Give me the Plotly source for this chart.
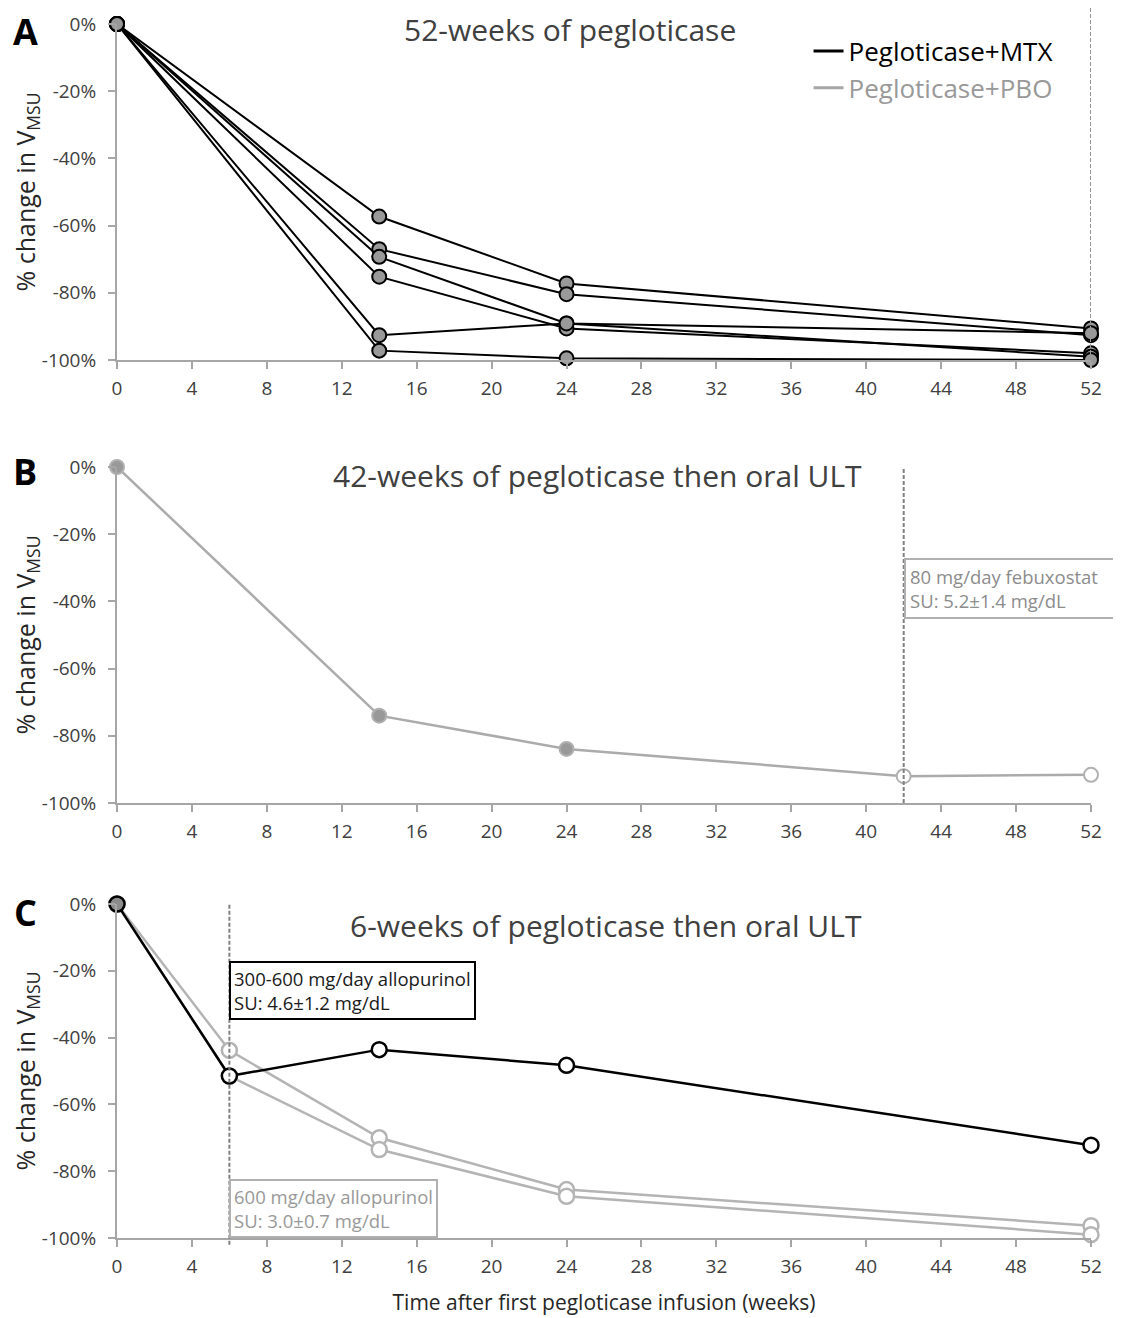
import plotly.graph_objects as go

# ---------------- data ----------------
weeks_a = [0, 14, 24, 52]
mtx_a1 = [0, -57.3, -77.2, -90.6]
mtx_a2 = [0, -67.0, -80.4, -92.6]
mtx_a3 = [0, -69.3, -89.1, -92.0]
mtx_a4 = [0, -75.2, -90.6, -98.0]
mtx_a5 = [0, -92.6, -89.1, -99.0]
mtx_a6 = [0, -97.2, -99.5, -100.0]
end_week_a = 52

weeks_b = [0, 14, 24, 42, 52]
pbo_b = [0, -74.0, -83.9, -92.0, -91.6]
switch_week_b = 42

weeks_c = [0, 6, 14, 24, 52]
mtx_c = [0, -51.5, -43.6, -48.3, -72.2]
pbo_c1 = [0, -43.8, -70.0, -85.5, -96.3]
pbo_c2 = [0, -51.5, -73.5, -87.5, -99.0]
switch_week_c = 6

y_tick_vals = [0, -20, -40, -60, -80, -100]
y_tick_text = ["0%", "-20%", "-40%", "-60%", "-80%", "-100%"]

titles = ["52-weeks of pegloticase",
          "42-weeks of pegloticase then oral ULT",
          "6-weeks of pegloticase then oral ULT"]
panel_letters = ["A", "B", "C"]
legend_names = ["Pegloticase+MTX", "Pegloticase+PBO"]
note_b = "80 mg/day febuxostat<br>SU: 5.2±1.4 mg/dL"
note_c_mtx = "300-600 mg/day allopurinol<br>SU: 4.6±1.2 mg/dL"
note_c_pbo = "600 mg/day allopurinol<br>SU: 3.0±0.7 mg/dL"
x_title = "Time after first pegloticase infusion (weeks)"
y_title = "% change in V<sub>MSU</sub>"

# ---------------- style ----------------
FONT = "Open Sans"
BLACK = "#000000"
GRAY_LINE = "#ababab"
GRAY_FILL = "#999999"
AXIS = "#a6a6a6"
TXT = "#404040"

fig = go.Figure()

def fills(weeks, switch, filled, empty="#ffffff"):
    return [filled if (switch is None or w < switch) else empty for w in weeks]

# Panel A
for ys in [mtx_a1, mtx_a2, mtx_a3, mtx_a4, mtx_a5, mtx_a6]:
    fig.add_trace(go.Scatter(
        x=weeks_a, y=ys, mode="lines+markers", xaxis="x", yaxis="y",
        line=dict(color=BLACK, width=2),
        marker=dict(size=14, color=GRAY_FILL, line=dict(color=BLACK, width=2)),
        cliponaxis=False, showlegend=False, hoverinfo="skip"))

# Panel B
fig.add_trace(go.Scatter(
    x=weeks_b, y=pbo_b, mode="lines+markers", xaxis="x2", yaxis="y2",
    line=dict(color=GRAY_LINE, width=2.5),
    marker=dict(size=14, color=fills(weeks_b, switch_week_b, GRAY_FILL),
                line=dict(color="#b0b0b0", width=2)),
    cliponaxis=False, showlegend=False, hoverinfo="skip"))

# Panel C
for ys in [pbo_c1, pbo_c2]:
    fig.add_trace(go.Scatter(
        x=weeks_c, y=ys, mode="lines+markers", xaxis="x3", yaxis="y3",
        line=dict(color="#b4b4b4", width=2.5),
        marker=dict(size=15, color=fills(weeks_c, switch_week_c, "#8c8c8c"),
                    line=dict(color="#b4b4b4", width=2.5)),
        cliponaxis=False, showlegend=False, hoverinfo="skip"))
fig.add_trace(go.Scatter(
    x=weeks_c, y=mtx_c, mode="lines+markers", xaxis="x3", yaxis="y3",
    line=dict(color=BLACK, width=2.5),
    marker=dict(size=15, color=fills(weeks_c, switch_week_c, "#8c8c8c"),
                line=dict(color=BLACK, width=2.5)),
    cliponaxis=False, showlegend=False, hoverinfo="skip"))

# Legend entries
fig.add_trace(go.Scatter(x=[None], y=[None], mode="lines", xaxis="x", yaxis="y",
                         line=dict(color=BLACK, width=3), name=legend_names[0]))
fig.add_trace(go.Scatter(x=[None], y=[None], mode="lines", xaxis="x", yaxis="y",
                         line=dict(color="#a6a6a6", width=3),
                         name='<span style="color:#999999">' + legend_names[1] + '</span>'))

# ---------------- axes ----------------
domains = [(0.7232, 1.0), (0.3583, 0.6351), (0.0, 0.2751)]
common_x = dict(range=[0, 52], tick0=0, dtick=4, showline=True, linecolor=AXIS,
                linewidth=2, ticks="outside", ticklen=7, tickwidth=2, tickcolor=AXIS,
                showgrid=False, zeroline=False, ticklabelstandoff=3,
                tickfont=dict(family=FONT, size=19, color=TXT))
common_y = dict(range=[-100, 0], tickvals=y_tick_vals, ticktext=y_tick_text,
                showline=True, linecolor=AXIS, linewidth=2, ticks="outside",
                ticklen=7, tickwidth=2, tickcolor=AXIS, showgrid=False,
                zeroline=False, ticklabelstandoff=8,
                tickfont=dict(family=FONT, size=19, color=TXT),
                title=dict(text=y_title, font=dict(family=FONT, size=25, color="#262626"),
                           standoff=4))

layout_axes = {}
for i, (d0, d1) in enumerate(domains):
    sx = "" if i == 0 else str(i + 1)
    xa = dict(common_x, anchor="y" + sx, domain=[0, 1])
    if i == 2:
        xa["title"] = dict(text=x_title, font=dict(family=FONT, size=21, color="#262626"),
                           standoff=18)
    layout_axes["xaxis" + sx] = xa
    layout_axes["yaxis" + sx] = dict(common_y, anchor="x" + sx, domain=[d0, d1])

fig.update_layout(**layout_axes)

# ---------------- shapes ----------------
dash = "4px,2px"
fig.add_shape(type="line", xref="x", yref="y domain", x0=end_week_a, x1=end_week_a,
              y0=0, y1=1.07, line=dict(color="#999999", width=2, dash=dash))
fig.add_shape(type="line", xref="x2", yref="y2 domain", x0=switch_week_b, x1=switch_week_b,
              y0=0, y1=1.0, line=dict(color="#808080", width=2, dash=dash))
fig.add_shape(type="line", xref="x3", yref="y3 domain", x0=switch_week_c, x1=switch_week_c,
              y0=-0.02, y1=1.0, line=dict(color="#808080", width=2, dash=dash))

# ---------------- annotations ----------------
ann = []
title_pos = [0.465, 0.493, 0.502]
title_y = [0.985, 0.975, 0.935]
for i, t in enumerate(titles):
    sx = "" if i == 0 else str(i + 1)
    ann.append(dict(text=t, xref="x" + sx + " domain", yref="y" + sx + " domain",
                    x=title_pos[i], y=title_y[i], xanchor="center", yanchor="middle",
                    showarrow=False, font=dict(family=FONT, size=30, color=TXT)))
letter_y = [0.994, 0.631, 0.2685]
for L, yy in zip(panel_letters, letter_y):
    ann.append(dict(text="<b>" + L + "</b>", xref="paper", yref="paper", x=-0.094, y=yy,
                    xanchor="center", yanchor="middle", showarrow=False,
                    font=dict(family=FONT, size=36, color=BLACK)))

ann.append(dict(text=note_b, xref="x2", yref="y2", x=switch_week_b, y=-27.1,
                xanchor="left", yanchor="top", align="left", showarrow=False,
                width=222, bordercolor="#b0b0b0", borderwidth=2, borderpad=4,
                bgcolor="rgba(255,255,255,0)",
                font=dict(family=FONT, size=18.5, color="#8c8c8c")))
ann.append(dict(text=note_c_mtx, xref="x3", yref="y3", x=switch_week_c, y=-17.0,
                xanchor="left", yanchor="top", align="left", showarrow=False,
                bordercolor=BLACK, borderwidth=2, borderpad=3,
                bgcolor="#ffffff",
                font=dict(family=FONT, size=18.5, color="#1a1a1a")))
ann.append(dict(text=note_c_pbo, xref="x3", yref="y3", x=switch_week_c, y=-82.3,
                xanchor="left", yanchor="top", align="left", showarrow=False,
                bordercolor="#b0b0b0", borderwidth=2, borderpad=3,
                bgcolor="rgba(255,255,255,0)",
                font=dict(family=FONT, size=18.5, color="#999999")))

fig.update_layout(
    annotations=ann,
    width=1113, height=1310,
    margin=dict(l=109, r=30, t=16, b=80, autoexpand=False),
    paper_bgcolor="white", plot_bgcolor="white",
    showlegend=True,
    legend=dict(x=0.710, y=0.997, xanchor="left", yanchor="top",
                font=dict(family=FONT, size=26, color=BLACK),
                bgcolor="rgba(255,255,255,0)", tracegroupgap=0),
)

fig.write_html("out.html")
